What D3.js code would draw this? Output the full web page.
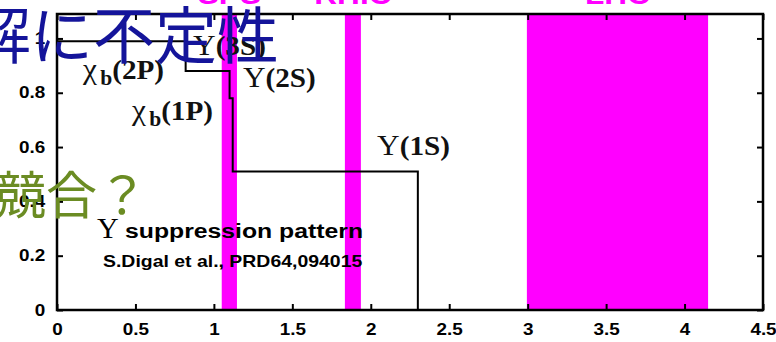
<!DOCTYPE html>
<html>
<head>
<meta charset="utf-8">
<script src="https://cdn.jsdelivr.net/npm/d3@7"></script>
<style>
  html, body { margin: 0; padding: 0; background: #ffffff; }
  svg { display: block; }
</style>
</head>
<body>
<svg id="chart" width="776" height="342"></svg>
<script>
// Collider energy-density windows (x-units of the plot)
const bandNames = ["SPS", "RHIC", "LHC"];
const bandStart = [1.05, 1.835, 2.995];
const bandEnd   = [1.147, 1.937, 4.15];

// Sequential suppression: step edges and surviving fraction after each edge
const stepX = [0, 0.82, 1.10, 1.12, 2.30];
const stepY = [0.99, 0.88, 0.78, 0.51, 0];

// State labels
const stateBase = ["Υ(3S)", "χ", "χ", "Υ(2S)", "Υ(1S)"];
const stateSub  = ["", "b", "b", "", ""];
const stateTail = ["", "(2P)", "(1P)", "", ""];

// Axis ticks
const xTicks = [0, 0.5, 1, 1.5, 2, 2.5, 3, 3.5, 4, 4.5];
const xTickLabels = ["0", "0.5", "1", "1.5", "2", "2.5", "3", "3.5", "4", "4.5"];
const yTicks = [0, 0.2, 0.4, 0.6, 0.8, 1];
const yTickLabels = ["0", "0.2", "0.4", "0.6", "0.8", "1"];

const svg = d3.select("#chart");
const pLeft = 57, pRight = 763, pTop = 14, pBottom = 310;

const x = d3.scaleLinear().domain([0, 4.5]).range([pLeft, pRight]);
const y = d3.scaleLinear().domain([0, 1.09]).range([pBottom, pTop]);

// horizontally stretched text helper
function place(sel, px, py, sx) {
  return sel.attr("transform", `translate(${px},${py}) scale(${sx},1)`);
}

// bands
svg.append("g").selectAll("rect")
  .data(bandNames)
  .join("rect")
  .attr("x", (d, i) => x(bandStart[i]))
  .attr("width", (d, i) => x(bandEnd[i]) - x(bandStart[i]))
  .attr("y", pTop)
  .attr("height", pBottom - pTop)
  .attr("fill", "#ff00ff");

// step curve
const pts = stepX.map((v, i) => [v, stepY[i]]);
svg.append("path")
  .datum(pts)
  .attr("fill", "none")
  .attr("stroke", "#000")
  .attr("stroke-width", 2)
  .attr("d", d3.line().x(d => x(d[0])).y(d => y(d[1])).curve(d3.curveStepAfter));

// frame
svg.append("rect")
  .attr("x", pLeft).attr("y", pTop)
  .attr("width", pRight - pLeft).attr("height", pBottom - pTop)
  .attr("fill", "none").attr("stroke", "#000").attr("stroke-width", 2.5);

const tickFont = "'Liberation Sans', Arial, Helvetica, sans-serif";

// bottom axis (ticks point inward)
const gx = svg.append("g").attr("transform", `translate(0,${pBottom})`)
  .call(d3.axisBottom(x).tickValues(xTicks)
    .tickFormat((d, i) => xTickLabels[i])
    .tickSizeInner(-6).tickSizeOuter(0).tickPadding(14));
gx.select(".domain").remove();
gx.selectAll("line").attr("stroke", "#000").attr("stroke-width", 2);
gx.selectAll("text")
  .attr("font-family", tickFont).attr("font-weight", "bold")
  .attr("font-size", 16).attr("fill", "#000")
  .attr("transform", "scale(1.18,1)");

// top axis ticks
const gt = svg.append("g").attr("transform", `translate(0,${pTop})`)
  .call(d3.axisTop(x).tickValues(xTicks).tickFormat("")
    .tickSizeInner(-6).tickSizeOuter(0));
gt.select(".domain").remove();
gt.selectAll("line").attr("stroke", "#000").attr("stroke-width", 2);

// left axis
const gy = svg.append("g").attr("transform", `translate(${pLeft},0)`)
  .call(d3.axisLeft(y).tickValues(yTicks)
    .tickFormat((d, i) => yTickLabels[i])
    .tickSizeInner(-6).tickSizeOuter(0).tickPadding(10));
gy.select(".domain").remove();
gy.selectAll("line").attr("stroke", "#000").attr("stroke-width", 2);
gy.selectAll("text")
  .attr("font-family", tickFont).attr("font-weight", "bold")
  .attr("font-size", 16).attr("fill", "#000")
  .attr("transform", "scale(1.18,1)");

// right axis ticks
const gr = svg.append("g").attr("transform", `translate(${pRight},0)`)
  .call(d3.axisRight(y).tickValues(yTicks).tickFormat("")
    .tickSizeInner(-6).tickSizeOuter(0));
gr.select(".domain").remove();
gr.selectAll("line").attr("stroke", "#000").attr("stroke-width", 2);

// state labels
const serif = "'Liberation Serif', 'Times New Roman', serif";
const labelAt = [[0.867, 0.94], [0.166, 0.85], [0.478, 0.70], [1.185, 0.82], [2.04, 0.572]];
stateBase.forEach((b, i) => {
  const t = place(svg.append("text"), x(labelAt[i][0]), y(labelAt[i][1]), 1.08)
    .attr("font-family", serif).attr("font-size", 27)
    .attr("font-weight", "bold").attr("fill", "#111");
  t.append("tspan").attr("font-weight", "normal").attr("font-size", 29).text(b.charAt(0));
  t.append("tspan").text(b.slice(1));
  if (stateSub[i]) {
    t.append("tspan").attr("font-size", 20)
      .attr("dx", 3).attr("dy", 6).text(stateSub[i]);
    t.append("tspan").attr("dy", -6).text(stateTail[i]);
  }
});

// title of the pattern
place(svg.append("text"), 97, 238, 1.0)
  .attr("font-family", serif).attr("font-size", 30).attr("fill", "#000").text("Υ");
place(svg.append("text"), 125, 238, 1.18)
  .attr("font-family", tickFont).attr("font-weight", "bold")
  .attr("font-size", 21).attr("fill", "#000").text("suppression pattern");
place(svg.append("text"), 103, 267, 1.215)
  .attr("font-family", tickFont).attr("font-weight", "bold")
  .attr("font-size", 16).attr("fill", "#000").text("S.Digal et al., PRD64,094015");

// collider names above bands
bandNames.forEach((n, i) => {
  place(svg.append("text"), x((bandStart[i] + bandEnd[i]) / 2), 4, 1.13)
    .attr("text-anchor", "middle")
    .attr("font-family", tickFont).attr("font-weight", "bold")
    .attr("font-size", 28).attr("fill", "#ff00ff").text(n);
});

// slide remarks
const cjk = "'Noto Sans CJK JP', 'Noto Sans CJK SC', sans-serif";
place(svg.append("text"), -5, 214, 1.0)
  .attr("font-family", cjk).attr("font-size", 51).attr("fill", "#6b8c23").text("競合？");
place(svg.append("text"), -31, 59, 1.0)
  .attr("font-family", cjk).attr("font-size", 62).attr("fill", "#14149a").text("解に不定性");
</script>
</body>
</html>
